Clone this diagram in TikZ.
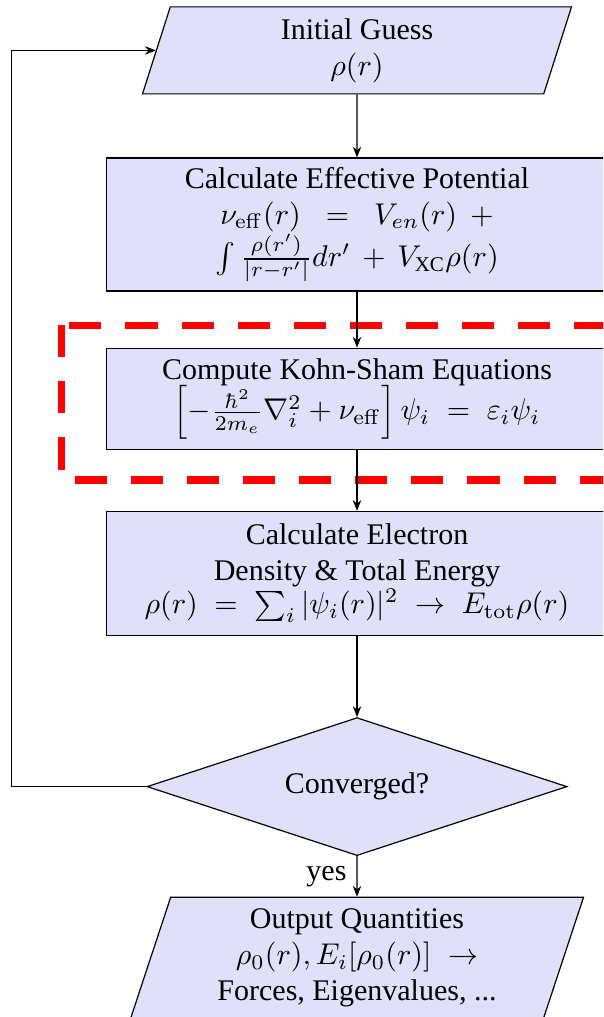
\documentclass[tikz,border=0pt]{standalone}
\usepackage{amsmath}
\usepackage[no-math]{fontspec}
\setmainfont{Liberation Serif}
\usetikzlibrary{arrows.meta, positioning, shapes.geometric, calc}

\definecolor{boxfill}{RGB}{224,224,250}

\begin{document}
\begin{tikzpicture}[
  node distance=20pt,
  proc/.style={draw, fill=boxfill, minimum width=166.8pt, align=center, inner sep=2pt},
  io/.style={trapezium, trapezium left angle=70, trapezium right angle=110, trapezium stretches body, draw, fill=boxfill, align=center, inner sep=2pt},
  decide/.style={diamond, draw, fill=boxfill, aspect=3, minimum width=140pt, minimum height=46pt, inner sep=0pt},
  arr/.style={-{Stealth[length=3.6pt, width=2.8pt]}}
]
\useasboundingbox (0,0) rectangle (201pt,-339pt);
\clip (0,0) rectangle (201pt,-339pt);

\node[io, minimum width=143pt, minimum height=29pt] (init) at (119pt,-16.8pt) {Initial Guess\\ $\rho(r)$};
\node[proc, minimum height=44.3pt, below=21pt of init] (veff) {Calculate Effective Potential\\ $\nu_{\mathrm{eff}}(r) \;\;=\;\; V_{en}(r) \;\,+$\\ $\int \frac{\rho(r')}{|r-r'|}dr' \,+\, V_{\text{XC}}\rho(r)$};
\node[proc, minimum height=33.7pt, below=18.7pt of veff] (ks) {Compute Kohn-Sham Equations\\[-1pt] $\left[-\frac{\hbar^2}{2m_e}\nabla_i^2+\nu_{\mathrm{eff}}\right]\psi_i \;=\; \varepsilon_i\psi_i$};
\node[proc, minimum height=41.3pt, below=20.3pt of ks] (dens) {Calculate Electron\\ Density \& Total Energy\\[-1pt] $\rho(r) \;=\; \sum_i|\psi_i(r)|^2 \;\rightarrow\; E_{\mathrm{tot}}\rho(r)$};
\node[decide, below=27pt of dens] (conv) {Converged?};
\node[io, minimum width=151pt, minimum height=40.5pt, below=13.5pt of conv] (out) {Output Quantities\\ $\rho_0(r), E_i[\rho_0(r)] \;\rightarrow$\\ Forces, Eigenvalues, ...};

% highlighted step
\draw[red, line width=2.4pt, dash pattern=on 10.7pt off 8pt] ($(ks.north west)+(-15pt,7.5pt)$) rectangle ($(ks.south east)+(16pt,-10pt)$);

\draw[arr] (init) -- (veff);
\draw[arr] (veff) -- (ks);
\draw[arr] (ks) -- (dens);
\draw[arr] (dens) -- (conv);
\draw[arr] (conv) -- node[left] {yes} (out);

% loop back
\coordinate (loop) at ($(conv.west)+(-45pt,0)$);
\draw[arr] (conv.west) -- (loop) |- (init.west);
\end{tikzpicture}
\end{document}
